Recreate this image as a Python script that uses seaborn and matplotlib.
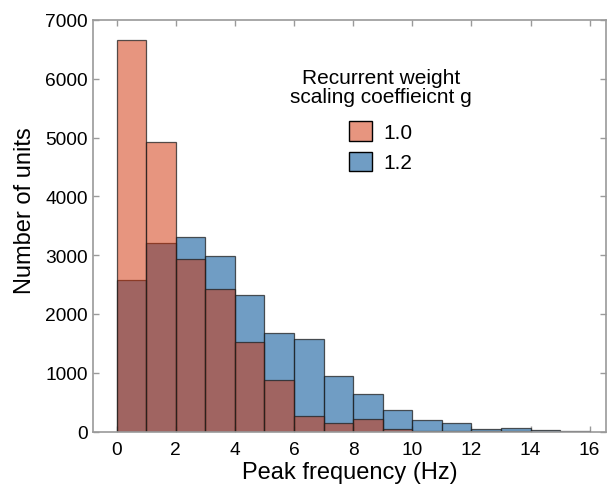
import numpy as np
import pandas as pd
import matplotlib
matplotlib.use("Agg")
import matplotlib.pyplot as plt
import seaborn as sns
from matplotlib.patches import Patch

# Histogram bin edges (Hz) and counts
bin_edges = list(range(0, 17))
counts_g10 = [6655, 4920, 2930, 2420, 1525, 880, 265, 155, 210, 45, 8, 4, 18, 4, 2, 0]
counts_g12 = [2580, 3200, 3310, 2980, 2320, 1670, 1570, 945, 645, 375, 195, 148, 46, 58, 24, 12]
group_labels = ["1.0", "1.2"]
x_ticks = [0, 2, 4, 6, 8, 10, 12, 14, 16]
y_ticks = [0, 1000, 2000, 3000, 4000, 5000, 6000, 7000]

sns.set_theme(style="white")
plt.rcParams["font.family"] = ["Liberation Sans", "DejaVu Sans"]
plt.rcParams["text.color"] = "black"
plt.rcParams["axes.labelcolor"] = "black"

centers = [(bin_edges[i] + bin_edges[i + 1]) / 2 for i in range(len(bin_edges) - 1)]
df_10 = pd.DataFrame({"freq": centers, "count": counts_g10})
df_12 = pd.DataFrame({"freq": centers, "count": counts_g12})

orange_fc = (209 / 255, 45 / 255, 0 / 255, 0.5)
blue_fc = (0 / 255, 81 / 255, 151 / 255, 0.56)
edge = (0.12, 0.12, 0.12, 0.75)

fig = plt.figure(figsize=(6.07, 4.85), dpi=100)
ax = fig.add_axes([0.1537, 0.108, 0.844, 0.849])

sns.histplot(data=df_12, x="freq", weights="count", bins=bin_edges, ax=ax,
             facecolor=blue_fc, edgecolor=edge, linewidth=0.9)
sns.histplot(data=df_10, x="freq", weights="count", bins=bin_edges, ax=ax,
             facecolor=orange_fc, edgecolor=edge, linewidth=0.9)

ax.set_xlim(-0.79, 16.54)
ax.set_ylim(0, 7000)
ax.set_xticks(x_ticks)
ax.set_yticks(y_ticks)
ax.set_xlabel("Peak frequency (Hz)", fontsize=17, labelpad=2)
ax.set_ylabel("Number of units", fontsize=17, labelpad=3)
ax.yaxis.set_label_coords(-0.111, 0.54)
ax.tick_params(axis="both", which="both", direction="in", length=4, width=1,
               color="#9a9a9a", labelcolor="black", labelsize=13.8,
               top=True, right=True, bottom=True, left=True)
ax.tick_params(axis="x", pad=7)
ax.tick_params(axis="y", pad=4)
for s in ax.spines.values():
    s.set_visible(True)
    s.set_color("#9a9a9a")
    s.set_linewidth(1.2)

handles = [Patch(facecolor=orange_fc, edgecolor="black", linewidth=1.0),
           Patch(facecolor=blue_fc, edgecolor="black", linewidth=1.0)]
leg = ax.legend(handles, group_labels,
                title="Recurrent weight\nscaling coeffieicnt g",
                loc="upper center", bbox_to_anchor=(0.561, 0.918),
                frameon=False, fontsize=15, title_fontsize=15,
                handlelength=1.1, handleheight=1.05, handletextpad=0.55,
                labelspacing=0.45, borderaxespad=0.3)
leg.get_title().set_multialignment("center")
leg.get_title().set_linespacing(1.0)
leg._legend_box.sep = 11

fig.savefig("out.png", dpi=100)
